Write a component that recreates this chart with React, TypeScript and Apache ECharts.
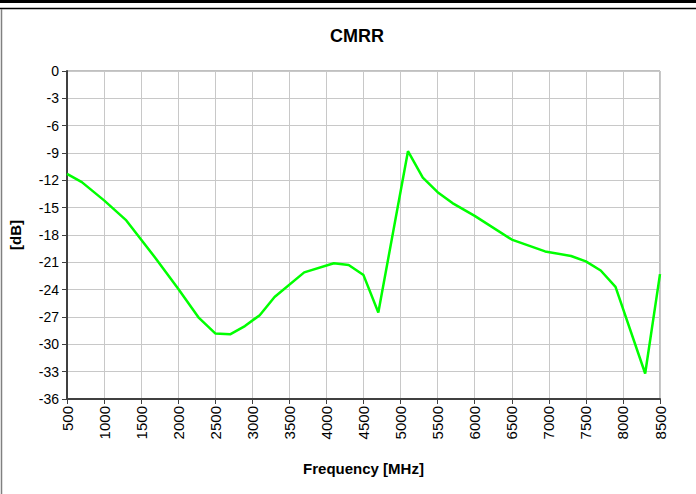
import React, { useEffect, useRef } from "react";
import * as echarts from "echarts";

const freqMHz = [500, 700, 1000, 1300, 1700, 2000, 2280, 2500, 2700, 2900, 3100, 3300, 3700, 4100, 4300, 4500, 4700, 5100, 5300, 5500, 5700, 6000, 6500, 6950, 7300, 7500, 7700, 7900, 8300, 8500];
const cmrrDb = [-11.3, -12.2, -14.2, -16.4, -20.6, -23.9, -27.1, -28.8, -28.9, -28.0, -26.8, -24.8, -22.1, -21.1, -21.3, -22.4, -26.5, -8.8, -11.7, -13.3, -14.5, -15.9, -18.5, -19.8, -20.3, -20.9, -21.9, -23.7, -33.2, -22.3];

const titleText = "CMRR";
const xName = "Frequency [MHz]";
const yName = "[dB]";

export default function App() {
  const ref = useRef<HTMLDivElement>(null);
  useEffect(() => {
    if (!ref.current) return;
    const chart = echarts.init(ref.current, null, { renderer: "svg" });
    const font = "'Liberation Sans', Arial, sans-serif";
    chart.setOption({
      animation: false,
      backgroundColor: "#ffffff",
      textStyle: { fontFamily: font },
      title: {
        text: titleText,
        left: 352,
        top: 22,
        textAlign: "center",
        textStyle: { fontFamily: font, fontSize: 18, fontWeight: "bold", color: "#000" },
      },
      graphic: [
        { type: "rect", shape: { x: 0, y: 0, width: 696, height: 3 }, style: { fill: "#000" } },
        { type: "line", shape: { x1: 0, y1: 8.5, x2: 696, y2: 8.5 }, style: { stroke: "#000", lineWidth: 1.5 } },
        { type: "line", shape: { x1: 1.5, y1: 9, x2: 1.5, y2: 494 }, style: { stroke: "#808080", lineWidth: 1.5 } },
      ],
      grid: { left: 64, top: 71, right: 36, bottom: 95, show: true, borderColor: "#808080", borderWidth: 1 },
      xAxis: {
        type: "value",
        min: 500,
        max: 8500,
        interval: 500,
        name: xName,
        nameLocation: "middle",
        nameGap: 62,
        nameTextStyle: { fontFamily: font, fontSize: 15, fontWeight: "bold", color: "#000" },
        axisLine: { show: true, onZero: false, lineStyle: { color: "#404040", width: 2 } },
        axisTick: { show: true, inside: false, length: 5, lineStyle: { color: "#404040" } },
        axisLabel: { rotate: 90, fontSize: 15, color: "#000", margin: 7, fontFamily: font, formatter: (v: number) => String(v) },
        splitLine: { show: true, lineStyle: { color: "#c8c8c8", width: 1 } },
      },
      yAxis: {
        type: "value",
        min: -36,
        max: 0,
        interval: 3,
        name: yName,
        nameLocation: "middle",
        nameGap: 44,
        nameRotate: 90,
        nameTextStyle: { fontFamily: font, fontSize: 15, fontWeight: "bold", color: "#000" },
        axisLine: { show: true, onZero: false, lineStyle: { color: "#404040", width: 2 } },
        axisTick: { show: true, inside: false, length: 5, lineStyle: { color: "#404040" } },
        axisLabel: { fontSize: 14, color: "#000", margin: 8, fontFamily: font, formatter: (v: number) => String(v) },
        splitLine: { show: true, lineStyle: { color: "#c8c8c8", width: 1 } },
      },
      series: [
        {
          type: "line",
          data: freqMHz.map((f, i) => [f, cmrrDb[i]]),
          showSymbol: false,
          symbol: "none",
          lineStyle: { color: "#00ff00", width: 2.5 },
          itemStyle: { color: "#00ff00" },
        },
      ],
    });
    return () => chart.dispose();
  }, []);
  return <div ref={ref} style={{ width: 696, height: 494, position: "absolute", left: 0, top: 0 }} />;
}
